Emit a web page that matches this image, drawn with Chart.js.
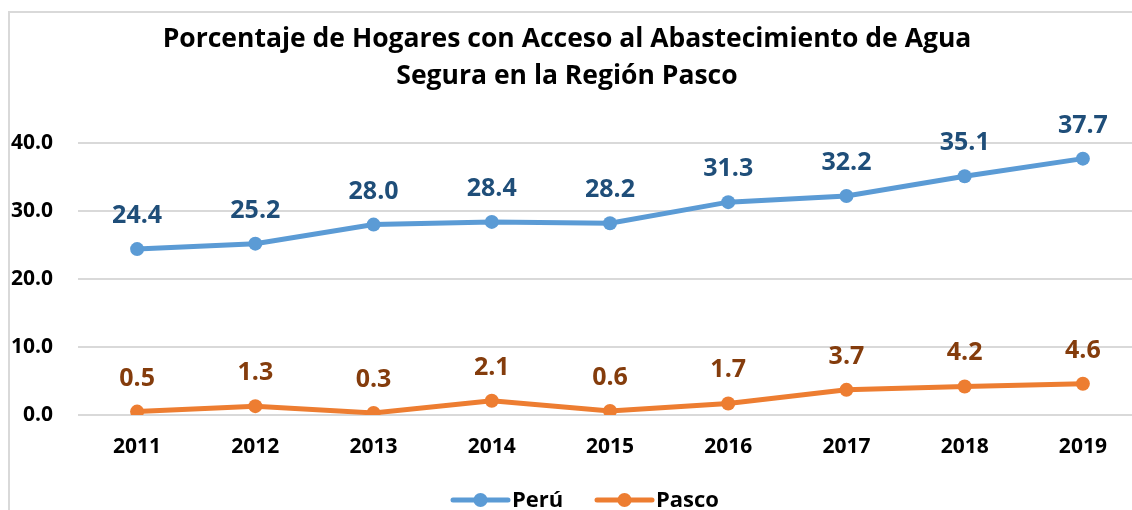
<!DOCTYPE html>
<html><head><meta charset="utf-8">
<script src="https://cdn.jsdelivr.net/npm/chart.js@4.4.1/dist/chart.umd.min.js"></script>
<style>
html,body{margin:0;padding:0;overflow:hidden;background:#fff;width:1132px;height:510px}
#wrap{position:absolute;left:0;top:0;width:1160px;height:510px}
</style></head>
<body><div id="wrap"><canvas id="c"></canvas></div>
<script>
const years = ['2011','2012','2013','2014','2015','2016','2017','2018','2019'];
const peru = [24.4,25.2,28.0,28.4,28.2,31.3,32.2,35.1,37.7];
const pasco = [0.5,1.3,0.3,2.1,0.6,1.7,3.7,4.2,4.6];
const seriesNames = ['Perú','Pasco'];
const lineColors = ['#5B9BD5','#ED7D31'];
const labelColors = ['#1F4E79','#843C0C'];
const titleLines = ['Porcentaje de Hogares con Acceso al Abastecimiento de Agua','Segura en la Región Pasco'];
const yMin = 0, yMax = 40, yStep = 10;
const FONT = '"Open Sans", Lato, sans-serif';

const frame = {
  id:'frame',
  beforeDraw(chart){
    const ctx = chart.ctx;
    ctx.save();
    ctx.fillStyle='#fff';
    ctx.fillRect(0,0,chart.width,chart.height);
    ctx.strokeStyle='#d9d9d9';
    ctx.lineWidth=2;
    ctx.strokeRect(9,12,chart.width+20,chart.height+20);
    ctx.fillStyle='#000';
    ctx.font='bold 26.5px '+FONT;
    ctx.textAlign='center';
    ctx.textBaseline='alphabetic';
    const cx = 567;
    ctx.fillText(titleLines[0],cx,47);
    ctx.fillText(titleLines[1],cx,84);
    ctx.restore();
  }
};
const labels = {
  id:'vlabels',
  afterDatasetsDraw(chart){
    const ctx = chart.ctx;
    ctx.save();
    ctx.font='bold 25px '+FONT;
    ctx.textAlign='center';
    ctx.textBaseline='alphabetic';
    chart.data.datasets.forEach((ds,i)=>{
      const meta = chart.getDatasetMeta(i);
      ctx.fillStyle = labelColors[i];
      meta.data.forEach((pt,j)=>{
        ctx.fillText(ds.data[j].toFixed(1), pt.x, pt.y-26);
      });
    });
    ctx.restore();
  }
};
const legend = {
  id:'mylegend',
  afterDraw(chart){
    const ctx = chart.ctx;
    ctx.save();
    const y = 500;
    const starts = [453,597];
    ctx.font='bold 22px '+FONT;
    ctx.textBaseline='middle';
    ctx.textAlign='left';
    seriesNames.forEach((n,i)=>{
      const x0 = starts[i];
      ctx.strokeStyle=lineColors[i];
      ctx.lineWidth=5;
      ctx.lineCap='round';
      ctx.beginPath();ctx.moveTo(x0,y);ctx.lineTo(x0+55,y);ctx.stroke();
      ctx.fillStyle=lineColors[i];
      ctx.beginPath();ctx.arc(x0+27.5,y,7,0,Math.PI*2);ctx.fill();
      ctx.fillStyle='#000';
      ctx.fillText(n,x0+59,y+1);
    });
    ctx.restore();
  }
};

new Chart(document.getElementById('c'),{
  type:'line',
  data:{
    labels:years,
    datasets:[
      {label:seriesNames[0],data:peru,borderColor:lineColors[0],backgroundColor:lineColors[0],borderWidth:5,pointRadius:7,pointBackgroundColor:lineColors[0],pointBorderWidth:0,tension:0},
      {label:seriesNames[1],data:pasco,borderColor:lineColors[1],backgroundColor:lineColors[1],borderWidth:5,pointRadius:7,pointBackgroundColor:lineColors[1],pointBorderWidth:0,tension:0}
    ]
  },
  options:{
    responsive:true,maintainAspectRatio:false,animation:false,devicePixelRatio:1,
    layout:{padding:{top:143,left:8,right:18,bottom:0}},
    plugins:{legend:{display:false},title:{display:false},tooltip:{enabled:false}},
    scales:{
      x:{offset:true,grid:{display:false,drawTicks:false},border:{display:false},
         ticks:{color:'#000',font:{family:FONT,weight:'bold',size:21},padding:19,maxRotation:0},
         afterFit(s){s.height=95;}},
      y:{min:yMin,max:yMax,grid:{color:'#d9d9d9',lineWidth:2,drawTicks:false},border:{display:false},
         ticks:{stepSize:yStep,color:'#000',font:{family:FONT,weight:'bold',size:21},padding:25,callback:v=>v.toFixed(1)},
         afterFit(s){s.width=70;}}
    }
  },
  plugins:[frame,labels,legend]
});
</script>
</body></html>
